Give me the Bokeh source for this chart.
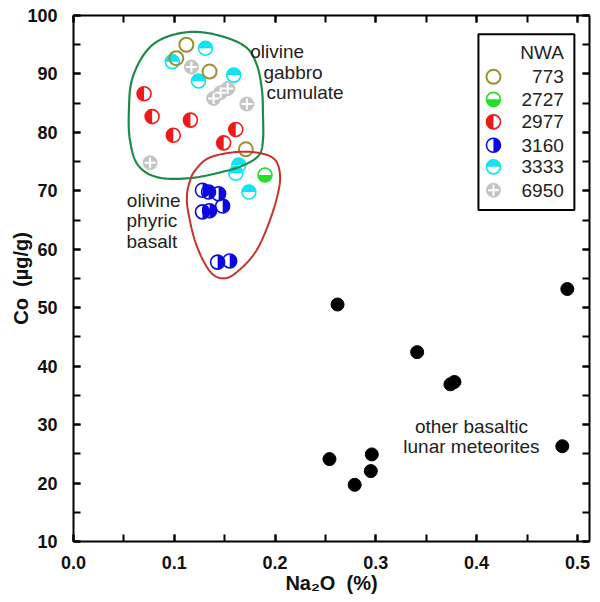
import numpy as np
from bokeh.plotting import figure
from bokeh.models import LinearAxis, SingleIntervalTicker, NumeralTickFormatter, CustomLabelingPolicy
from bokeh.core.properties import value
from bokeh.embed import file_html
from bokeh.resources import INLINE

# ---------------- data ----------------
na2o_773 = [0.112, 0.102, 0.135, 0.171]
co_773 = [95.0, 92.7, 90.4, 77.1]

na2o_2727 = [0.190]
co_2727 = [72.7]

na2o_2977 = [0.070, 0.078, 0.116, 0.099, 0.161, 0.149]
co_2977 = [86.6, 82.7, 82.1, 79.5, 80.5, 78.2]

na2o_3160 = [0.128, 0.134, 0.144, 0.148, 0.128, 0.135, 0.143, 0.155]
co_3160 = [70.1, 69.8, 69.5, 67.4, 66.4, 66.6, 57.8, 58.0]

na2o_3333 = [0.131, 0.098, 0.124, 0.159, 0.164, 0.161, 0.174]
co_3333 = [94.4, 92.1, 88.8, 89.8, 74.4, 73.0, 69.8]

na2o_6950 = [0.117, 0.139, 0.146, 0.153, 0.172, 0.076]
co_6950 = [91.2, 85.8, 86.8, 87.5, 84.85, 74.8]

na2o_other = [0.262, 0.341, 0.374, 0.378, 0.254, 0.296, 0.295, 0.279, 0.490, 0.485]
co_other = [50.55, 42.4, 36.9, 37.3, 24.1, 24.9, 22.05, 19.7, 53.2, 26.3]

legend_labels = ["773", "2727", "2977", "3160", "3333", "6950"]
legend_title = "NWA"

# outline shapes (annotation curves)
gabbro_x = [0.117, 0.146, 0.171, 0.182, 0.187, 0.188, 0.188, 0.184, 0.169, 0.151,
            0.117, 0.084, 0.064, 0.056, 0.055, 0.058, 0.071, 0.089]
gabbro_y = [97.2, 96.5, 94.6, 91.5, 87.2, 83.0, 78.7, 76.1, 74.4, 73.4,
            72.2, 72.3, 74.4, 78.7, 83.8, 89.0, 93.6, 96.1]
basalt_x = [0.1158, 0.1207, 0.134, 0.159, 0.1835, 0.200, 0.205, 0.2017, 0.193, 0.1815,
            0.1667, 0.151, 0.136, 0.122, 0.114, 0.1126]
basalt_y = [71.8, 73.5, 75.6, 76.6, 76.5, 75.3, 72.4, 68.75, 64.1, 59.8,
            56.8, 55.05, 56.1, 60.7, 66.2, 69.3]

FONT = "Liberation Sans"
C773, C2727, C2977, C3160, C3333, C6950 = "#9c9030", "#22e022", "#ee1a1a", "#0a0ae0", "#10e4f0", "#c4c4c4"
GREEN_LINE, RED_LINE = "#1e8a4a", "#c8302a"
SIZE = 14

p = figure(frame_width=516, frame_height=526, x_range=(0, 0.512), y_range=(10, 100),
           output_backend="svg", toolbar_location=None,
           min_border_left=73, min_border_right=1, min_border_top=15, min_border_bottom=50)
p.outline_line_color = None
p.xgrid.visible = False
p.ygrid.visible = False
p.background_fill_color = "white"

no_labels = CustomLabelingPolicy(code="""
for (let i = 0; i < indices.size; i++) { indices.unset(i) }
return indices
""")


def style_axis(ax, labels=True):
    ax.axis_line_width = 2
    ax.axis_line_color = "black"
    ax.major_tick_in = 7
    ax.major_tick_out = 0
    ax.minor_tick_in = 7
    ax.minor_tick_out = 0
    ax.major_tick_line_width = 2
    ax.minor_tick_line_width = 2
    ax.major_tick_line_color = "black"
    ax.minor_tick_line_color = "black"
    if labels:
        ax.major_label_text_font = FONT
        ax.major_label_text_font_style = "bold"
        ax.major_label_text_font_size = "18px"
        ax.major_label_text_color = "#111111"
        ax.axis_label_text_font = FONT
        ax.axis_label_text_font_style = "bold"
        ax.axis_label_text_font_size = "20px"
        ax.axis_label_text_color = "#111111"
    else:
        ax.major_label_policy = no_labels
        ax.major_label_text_font_size = "1px"
        ax.major_label_standoff = 0
        ax.axis_label_standoff = 0


xt = SingleIntervalTicker(interval=0.1, num_minor_ticks=2)
yt = SingleIntervalTicker(interval=10, num_minor_ticks=2)
p.xaxis.ticker = xt
p.yaxis.ticker = yt
p.xaxis.formatter = NumeralTickFormatter(format="0.0")
p.xaxis.axis_label = "Na\u2082O\u00a0\u00a0(%)"
p.yaxis.axis_label = "Co\u00a0\u00a0(\u00b5g/g)"
style_axis(p.xaxis[0])
style_axis(p.yaxis[0])
p.xaxis.major_label_standoff = 14
p.yaxis.major_label_standoff = 16
p.xaxis.axis_label_standoff = 0
p.yaxis.axis_label_standoff = -8

ax_top = LinearAxis(ticker=SingleIntervalTicker(interval=0.1, num_minor_ticks=2))
ax_right = LinearAxis(ticker=SingleIntervalTicker(interval=10, num_minor_ticks=2))
style_axis(ax_top, labels=False)
style_axis(ax_right, labels=False)
p.add_layout(ax_top, "above")
p.add_layout(ax_right, "right")


def half(xs, ys, color, start, end):
    p.scatter(xs, ys, size=SIZE, fill_color="white", line_color=None)
    p.wedge(xs, ys, radius=SIZE / 2, radius_units="screen", start_angle=start, end_angle=end,
            fill_color=color, line_color=None)
    p.scatter(xs, ys, size=SIZE, fill_color=None, line_color=color, line_width=1.6)


def open_c(xs, ys):
    p.scatter(xs, ys, size=SIZE, fill_color=None, line_color=C773, line_width=2)


def quart(xs, ys):
    p.scatter(xs, ys, size=SIZE, fill_color=C6950, line_color=C6950, line_width=1)
    p.scatter(xs, ys, size=SIZE - 3, marker="cross", fill_color=None, line_color="white", line_width=2)


PI = np.pi

# other basaltic lunar meteorites
p.scatter(na2o_other, co_other, size=13, fill_color="black", line_color="black")

half(na2o_3333, co_3333, C3333, 0, PI)
quart(na2o_6950, co_6950)
half(na2o_2977, co_2977, C2977, PI / 2, 3 * PI / 2)
half(na2o_3160, co_3160, C3160, -PI / 2, PI / 2)
half(na2o_2727, co_2727, C2727, PI, 2 * PI)
open_c(na2o_773, co_773)


def smooth_closed(xs, ys, n=24):
    pts = np.column_stack([xs, ys]).astype(float)
    N = len(pts)
    out = []
    for i in range(N):
        p0, p1, p2, p3 = pts[i - 1], pts[i], pts[(i + 1) % N], pts[(i + 2) % N]
        for t in np.linspace(0, 1, n, endpoint=False):
            t2, t3 = t * t, t * t * t
            q = 0.5 * ((2 * p1) + (-p0 + p2) * t + (2 * p0 - 5 * p1 + 4 * p2 - p3) * t2
                       + (-p0 + 3 * p1 - 3 * p2 + p3) * t3)
            out.append(q)
    out.append(out[0])
    out = np.array(out)
    return out[:, 0], out[:, 1]


gx, gy = smooth_closed(gabbro_x, gabbro_y)
bx, by = smooth_closed(basalt_x, basalt_y)
p.line(gx, gy, line_color=GREEN_LINE, line_width=2.2)
p.line(bx, by, line_color=RED_LINE, line_width=2)

# text annotations
tkw = dict(text_font=value(FONT), text_font_size="19px", text_color="#222222", text_baseline="middle")
p.text([0.1753], [93.8], ["olivine"], text_align="left", **tkw)
p.text([0.1885], [90.2], ["gabbro"], text_align="left", **tkw)
p.text([0.1915], [86.85], ["cumulate"], text_align="left", **tkw)
p.text([0.0529, 0.0526, 0.0526], [68.4, 64.9, 61.4], ["olivine", "phyric", "basalt"], text_align="left", **tkw)
p.text([0.3948, 0.3948], [29.75, 26.3], ["other basaltic", "lunar meteorites"], text_align="center", **tkw)

# legend box (drawn in data space)
lx0, lx1, ly0, ly1 = 0.4018, 0.4970, 66.7, 96.8
p.quad(left=[lx0], right=[lx1], bottom=[ly0], top=[ly1], fill_color="white", line_color="black", line_width=2)
mx, tx = 0.4167, 0.4865
rows = [89.5, 85.65, 81.8, 77.8, 74.1, 70.1]
p.text([tx], [93.6], [legend_title], text_align="right", **tkw)
p.text([tx] * 6, rows, legend_labels, text_align="right", **tkw)
open_c([mx], [rows[0]])
half([mx], [rows[1]], C2727, PI, 2 * PI)
half([mx], [rows[2]], C2977, PI / 2, 3 * PI / 2)
half([mx], [rows[3]], C3160, -PI / 2, PI / 2)
half([mx], [rows[4]], C3333, 0, PI)
quart([mx], [rows[5]])

open("out.html", "w").write(file_html(p, INLINE))
